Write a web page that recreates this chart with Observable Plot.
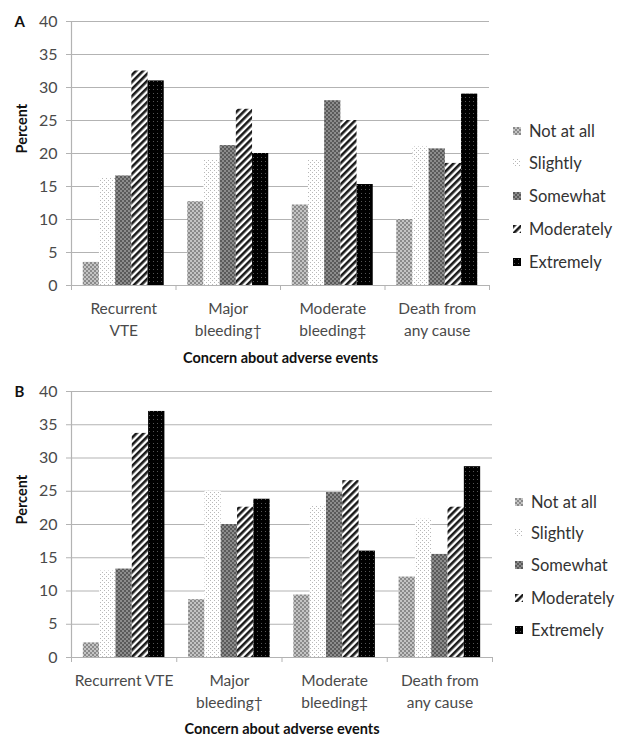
<!DOCTYPE html>
<html><head><meta charset="utf-8">
<script src="https://cdn.jsdelivr.net/npm/d3@7"></script>
<script src="https://cdn.jsdelivr.net/npm/@observablehq/plot@0.6"></script>
<style>
body{margin:0;background:#fff;font-family:Lato,"Open Sans",sans-serif;}
.panel{position:relative;width:617px;overflow:hidden;}
.legend{position:absolute;font-family:Lato,sans-serif;font-size:16.5px;color:#333;white-space:nowrap;}
.legend .item{position:absolute;left:0;display:flex;align-items:center;height:20px;transform:translateY(-50%);}
.legend svg{margin-right:8px;}
</style></head><body>
<svg width="0" height="0" style="position:absolute">
<defs>
<pattern id="pNot" width="4" height="4" patternUnits="userSpaceOnUse">
  <rect width="4" height="4" fill="#c4c4c4"/><rect width="2" height="2" fill="#8a8a8a"/><rect x="2" y="2" width="2" height="2" fill="#8a8a8a"/>
</pattern>
<pattern id="pSlight" width="4" height="4" patternUnits="userSpaceOnUse">
  <rect width="4" height="4" fill="#ffffff"/><rect width="1" height="1" fill="#b8b8b8"/><rect x="2" y="2" width="1" height="1" fill="#b8b8b8"/>
</pattern>
<pattern id="pSome" width="4" height="4" patternUnits="userSpaceOnUse">
  <rect width="4" height="4" fill="#8c8c8c"/><rect width="2" height="2" fill="#5a5a5a"/><rect x="2" y="2" width="2" height="2" fill="#5a5a5a"/>
</pattern>
<pattern id="pMod" width="5" height="5" patternUnits="userSpaceOnUse" patternTransform="rotate(45)">
  <rect width="5" height="5" fill="#ffffff"/><rect width="2.6" height="5" fill="#1a1a1a"/>
</pattern>
<pattern id="pExt" width="4" height="4" patternUnits="userSpaceOnUse">
  <rect width="4" height="4" fill="#000000"/><rect x="1" y="1" width="1" height="1" fill="#555555"/>
</pattern>
</defs></svg>
<div id="panelA" class="panel"></div>
<div id="panelB" class="panel"></div>
<script>
// ---- data ----
const levels = ["Not at all", "Slightly", "Somewhat", "Moderately", "Extremely"];
const eventLabelsA = ["Recurrent\nVTE", "Major\nbleeding†", "Moderate\nbleeding‡", "Death from\nany cause"];
const eventLabelsB = ["Recurrent VTE", "Major\nbleeding†", "Moderate\nbleeding‡", "Death from\nany cause"];
const yTicks = [0, 5, 10, 15, 20, 25, 30, 35, 40];
const xTitle = "Concern about adverse events";
const yTitle = "Percent";

// Panel A (percent per event: Recurrent VTE, Major bleeding, Moderate bleeding, Death)
const notAtAllA   = [3.5, 12.7, 12.2, 10.0];
const slightlyA   = [16.3, 19.0, 19.0, 21.0];
const somewhatA   = [16.6, 21.2, 28.0, 20.7];
const moderatelyA = [32.5, 26.7, 25.0, 18.5];
const extremelyA  = [31.0, 20.0, 15.3, 29.0];

// Panel B
const notAtAllB   = [2.2, 8.7, 9.4, 12.1];
const slightlyB   = [13.0, 25.0, 22.8, 20.8];
const somewhatB   = [13.3, 20.0, 24.8, 15.5];
const moderatelyB = [33.7, 22.6, 26.6, 22.6];
const extremelyB  = [37.0, 23.8, 16.0, 28.7];

const patterns = ["url(#pNot)", "url(#pSlight)", "url(#pSome)", "url(#pMod)", "url(#pExt)"];
const gridColor = "#b3b3b3";
const tickColor = "#4a4a4a";

function makeChart(series, eventLabels, panelLetter, cfg) {
  const rows = [];
  series.forEach((vals, j) => vals.forEach((v, i) => rows.push({event: i, level: j, value: v})));
  const groupPad = 0.1125, barW = 0.775 / levels.length;
  const nEvents = eventLabels.length;
  const bounds = d3.range(nEvents + 1);
  const centers = d3.range(nEvents).map(i => i + 0.5);
  return Plot.plot({
    width: 617, height: cfg.height,
    marginLeft: 71, marginRight: cfg.marginRight, marginTop: 21, marginBottom: cfg.marginBottom,
    style: {fontFamily: "Lato, sans-serif", background: "#fff"},
    x: {domain: [0, nEvents], axis: null},
    y: {domain: [0, 40], axis: null},
    color: {type: "identity"},
    marks: [
      Plot.ruleY(yTicks.filter(d => d > 0), {stroke: gridColor, strokeWidth: 1.2}),
      Plot.rectY(rows, {
        x1: d => d.event + groupPad + d.level * barW,
        x2: d => d.event + groupPad + (d.level + 1) * barW,
        y: "value",
        fill: d => patterns[d.level]
      }),
      Plot.ruleX([0], {stroke: gridColor, strokeWidth: 1.2}),
      Plot.ruleY([0], {stroke: gridColor, strokeWidth: 1.2}),
      Plot.axisY({ticks: yTicks, tickSize: 5, tickPadding: 9, stroke: gridColor, fill: tickColor, fontSize: 16, label: null}),
      Plot.axisX({ticks: bounds, tickSize: 5, tickFormat: () => "", stroke: gridColor, label: null}),
      Plot.axisX({ticks: centers, tickSize: 0, tickPadding: cfg.xLabelPad, tickFormat: d => eventLabels[Math.floor(d)],
                  fill: tickColor, fontSize: 15.5, lineHeight: 1.42, label: null}),
      Plot.text([xTitle], {frameAnchor: "bottom", dy: cfg.xTitleDy, fontWeight: "bold", fontSize: 14.5, fill: "#111"}),
      Plot.text([yTitle], {frameAnchor: "left", dx: -49, rotate: -90, fontWeight: "bold", fontSize: 14.5, fill: "#111"}),
      Plot.text([panelLetter], {frameAnchor: "top-left", dx: -57, dy: 1, lineAnchor: "middle", fontWeight: "bold", fontSize: 15, fill: "#111"})
    ]
  });
}

function makeLegend(cfg) {
  const div = document.createElement("div");
  div.className = "legend";
  div.style.left = cfg.left + "px";
  div.style.top = "0px";
  levels.forEach((lvl, j) => {
    const item = document.createElement("div");
    item.className = "item";
    item.style.top = cfg.ys[j] + "px";
    item.innerHTML = `<svg width="8" height="8"><rect width="8" height="8" fill="${patterns[j]}"/></svg><span>${lvl}</span>`;
    div.appendChild(item);
  });
  return div;
}

const pA = document.getElementById("panelA");
pA.appendChild(makeChart([notAtAllA, slightlyA, somewhatA, moderatelyA, extremelyA], eventLabelsA, "A",
  {height: 370, marginRight: 128, marginBottom: 85, xLabelPad: 13, xTitleDy: 77}));
pA.appendChild(makeLegend({left: 513, ys: [131, 163, 196, 229, 262]}));

const pB = document.getElementById("panelB");
pB.appendChild(makeChart([notAtAllB, slightlyB, somewhatB, moderatelyB, extremelyB], eventLabelsB, "B",
  {height: 367, marginRight: 125, marginBottom: 80, xLabelPad: 13, xTitleDy: 76}));
pB.appendChild(makeLegend({left: 515, ys: [132, 163, 195, 228, 260]}));
</script>
</body></html>
